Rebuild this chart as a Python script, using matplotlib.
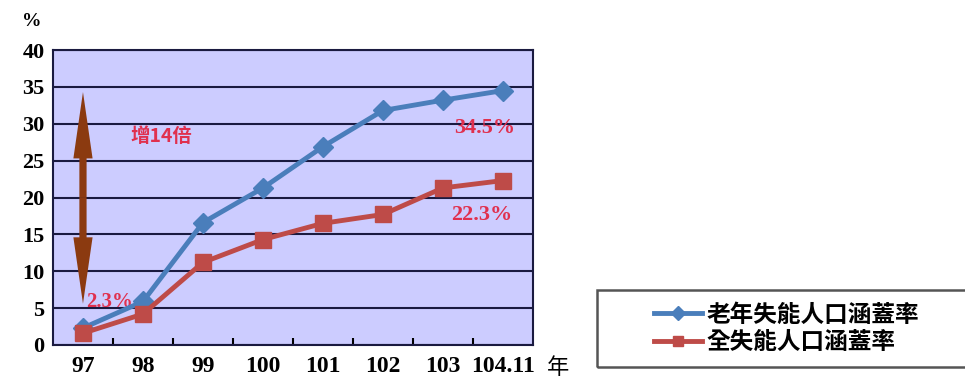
import numpy as np
import matplotlib.pyplot as plt
from matplotlib.patches import Rectangle

# Data
years = ['97', '98', '99', '100', '101', '102', '103', '104.11']
elderly = [2.3, 5.9, 16.6, 21.3, 26.9, 31.8, 33.2, 34.5]
overall = [1.6, 4.2, 11.2, 14.3, 16.5, 17.7, 21.3, 22.3]
series_names = ['老年失能人口涵蓋率', '全失能人口涵蓋率']

cjk = ['Noto Sans CJK TC', 'DejaVu Sans']
num_font = 'Liberation Serif'
label_red = '#E0304E'

fig = plt.figure(figsize=(9.65, 3.85), dpi=100)
ax = fig.add_axes([0.0549, 0.1039, 0.4974, 0.7662])
ax.set_facecolor('#CCCCFF')

x = np.arange(len(years))
l1, = ax.plot(x, elderly, color='#4A7EBB', lw=3.5, marker='D', ms=10,
              markerfacecolor='#4A7EBB', label=series_names[0], zorder=4)
l2, = ax.plot(x, overall, color='#BE4B48', lw=3.5, marker='s', ms=11,
              markerfacecolor='#BE4B48', label=series_names[1], zorder=4)

ax.set_xlim(-0.5, len(years) - 0.5)
ax.set_ylim(0, 40)
ax.set_yticks(np.arange(0, 41, 5))
ax.yaxis.grid(True, color='#1a1a40', lw=1.5)
ax.set_axisbelow(True)
ax.tick_params(axis='y', length=0, pad=6)
ax.set_xticks(x)
ax.set_xticklabels(years)
ax.set_xticks(np.arange(0.5, len(years) - 1, 1), minor=True)
ax.tick_params(axis='x', which='major', length=0, pad=8)
ax.tick_params(axis='x', which='minor', direction='in', length=5, width=1.5)
for lab in ax.get_yticklabels():
    lab.set_fontfamily(num_font)
    lab.set_fontsize(16)
    lab.set_fontweight('bold')
for lab in ax.get_xticklabels():
    lab.set_fontfamily(num_font)
    lab.set_fontsize(17)
    lab.set_fontweight('bold')
for sp in ax.spines.values():
    sp.set_color('#1a1a40')
    sp.set_linewidth(1.5)

# double-headed arrow (two halves meeting in the middle)
arrow_lo, arrow_hi = 5.6, 34.3
mid = (arrow_lo + arrow_hi) / 2
for end in (arrow_hi, arrow_lo):
    ax.arrow(0, mid, 0, end - mid, width=0.12, head_width=0.32,
             head_length=9.0, length_includes_head=True,
             color='#8B3A10', lw=0, zorder=3)

ax.text(1.3, 28.3, '增14倍', color=label_red, fontsize=14, fontweight='bold',
        family=cjk, ha='center', va='center')
ax.text(0.05, 5.8, '2.3%', color=label_red, fontsize=15, family=num_font,
        fontweight='bold', ha='left', va='center')
ax.text(7.2, 29.4, '34.5%', color=label_red, fontsize=16, family=num_font,
        fontweight='bold', ha='right', va='center')
ax.text(7.15, 17.6, '22.3%', color=label_red, fontsize=16, family=num_font,
        fontweight='bold', ha='right', va='center')

fig.text(0.033, 0.945, '%', fontsize=14, fontweight='bold', family=num_font,
         ha='center', va='center')
fig.text(0.578, 0.045, '年', fontsize=16, family=cjk, ha='center', va='center')

# legend box
fig.patches.append(Rectangle((0.619, 0.047), 0.39, 0.2, transform=fig.transFigure,
                             fill=False, edgecolor='#555555', lw=1.8))
leg = fig.legend(handles=[l1, l2], loc='center left',
                 bbox_to_anchor=(0.666, 0.147), bbox_transform=fig.transFigure,
                 prop={'family': cjk, 'size': 17, 'weight': 'bold'},
                 frameon=False, handlelength=2.0, borderpad=0,
                 labelspacing=0.15, handletextpad=0.2)
for h in leg.legend_handles:
    h.set_markersize(7)

fig.savefig('out.png', dpi=100)
